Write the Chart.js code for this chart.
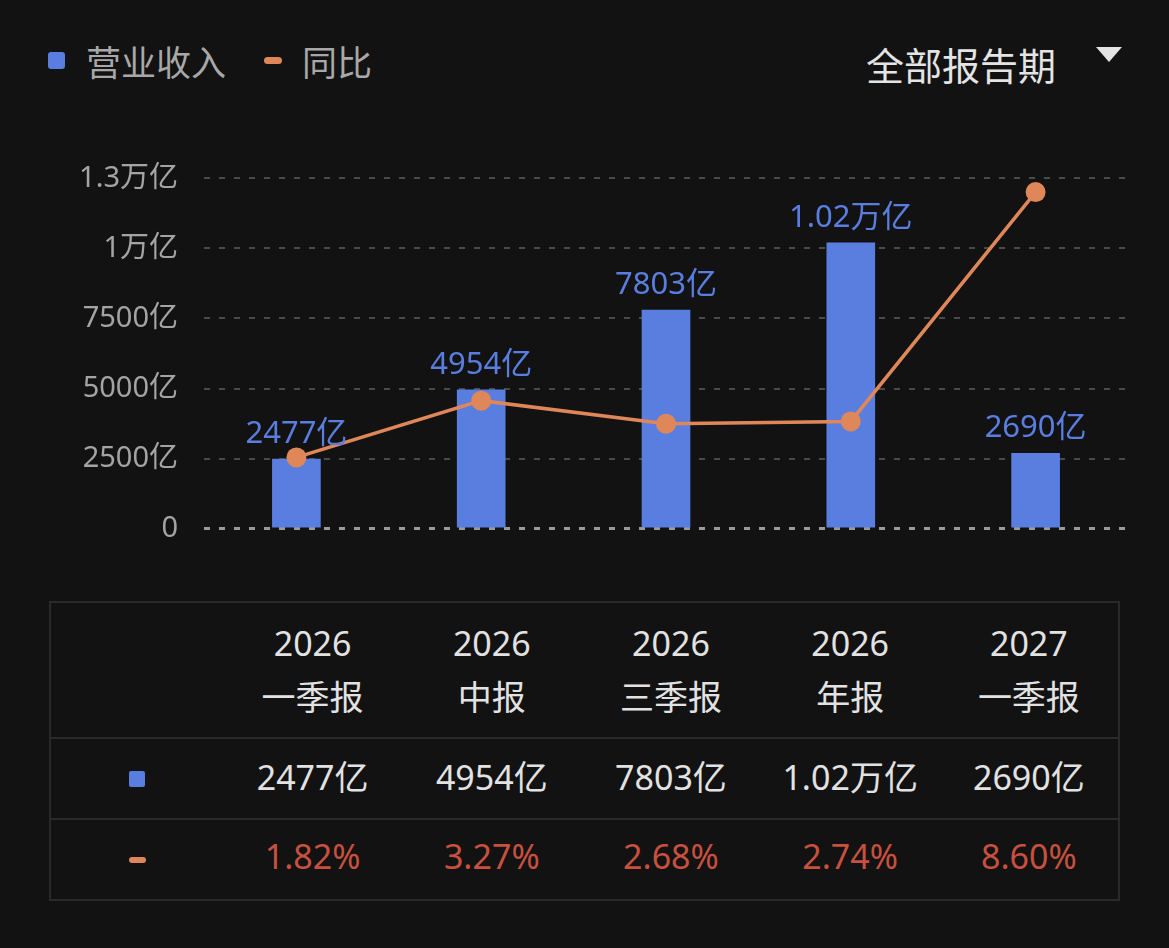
<!DOCTYPE html>
<html>
<head>
<meta charset="utf-8">
<script src="https://cdn.jsdelivr.net/npm/chart.js@4/dist/chart.umd.min.js"></script>
<style>
  html, body { margin: 0; padding: 0; background: #121212; }
  body { width: 1169px; height: 948px; position: relative; overflow: hidden;
         font-family: "Noto Sans", "Noto Sans CJK SC", sans-serif; }
  .legend { position: absolute; left: 48px; top: 38px; height: 44px; display: flex; align-items: center;
            font-size: 35px; color: #a8a8a8; }
  .legend .sq { width: 17px; height: 17px; border-radius: 3px; background: #5a7ee0; margin-right: 21px; }
  .legend .dash { width: 18px; height: 7px; border-radius: 4px; background: #e0875a; margin: 0 20px 0 38px; }
  .period { position: absolute; left: 866px; top: 36px; font-size: 38px; color: #e4e4e4; }
  .tri { position: absolute; left: 1096px; top: 47px; width: 0; height: 0;
         border-left: 13px solid transparent; border-right: 13px solid transparent; border-top: 15px solid #e4e4e4; }
  #c { position: absolute; left: 0; top: 135px; }
  table { position: absolute; left: 49px; top: 601px; width: 1071px; border-collapse: collapse;
          border: 2px solid #2a2a2a; table-layout: fixed; }
  td { text-align: center; font-size: 34px; color: #e2e2e2; padding: 0; }
  tr.head td { height: 134px; line-height: 54px; }
  tr.rev td, tr.yoy td { height: 72px; padding-bottom: 7px; border-top: 2px solid #2a2a2a; }
  tr.yoy td { color: #c8503f; }
  .msq { display: inline-block; width: 16px; height: 16px; border-radius: 2px; background: #5a7ee0; vertical-align: middle; }
  .mdash { display: inline-block; width: 17px; height: 6px; border-radius: 3px; background: #e0875a; vertical-align: middle; }
</style>
</head>
<body>
<div class="legend"><span class="sq"></span>营业收入<span class="dash"></span>同比</div>
<div class="period">全部报告期</div>
<div class="tri"></div>
<canvas id="c" width="1169" height="437"></canvas>
<table id="tbl"></table>
<script>
// periods and values
const years = ['2026', '2026', '2026', '2026', '2027'];
const periods = ['一季报', '中报', '三季报', '年报', '一季报'];
const revenue = [2477, 4954, 7803, 10200, 2690]; // 亿
const revenueText = ['2477亿', '4954亿', '7803亿', '1.02万亿', '2690亿'];
const yoy = [1.82, 3.27, 2.68, 2.74, 8.60]; // %
const yTicks = [0, 2500, 5000, 7500, 10000, 12500];
const yTickLabels = ['0', '2500亿', '5000亿', '7500亿', '1万亿', '1.3万亿'];

const BLUE = '#5a7ee0';
const ORANGE = '#e0875a';

// table under the chart
const tbl = document.getElementById('tbl');
let html = '<colgroup><col style="width:173px">' + years.map(() => '<col>').join('') + '</colgroup>';
html += '<tr class="head"><td></td>';
years.forEach((y, i) => { html += '<td>' + y + '<br>' + periods[i] + '</td>'; });
html += '</tr><tr class="rev"><td><span class="msq"></span></td>';
revenueText.forEach(t => { html += '<td>' + t + '</td>'; });
html += '</tr><tr class="yoy"><td><span class="mdash"></span></td>';
yoy.forEach(v => { html += '<td>' + v.toFixed(2) + '%</td>'; });
html += '</tr>';
tbl.innerHTML = html;

// labels above bars
const barLabels = {
  id: 'barLabels',
  afterDatasetsDraw(chart) {
    const ctx = chart.ctx;
    const meta = chart.getDatasetMeta(1);
    ctx.save();
    ctx.font = '31px "Noto Sans", "Noto Sans CJK SC"';
    ctx.fillStyle = BLUE;
    ctx.textAlign = 'center';
    ctx.textBaseline = 'middle';
    meta.data.forEach((bar, i) => {
      ctx.fillText(revenueText[i], bar.x, bar.y - 25);
    });
    ctx.restore();
  }
};

new Chart(document.getElementById('c'), {
  data: {
    labels: periods.map((p, i) => years[i] + p),
    datasets: [
      {
        type: 'line',
        label: '同比',
        data: yoy,
        yAxisID: 'y1',
        borderColor: ORANGE,
        backgroundColor: ORANGE,
        borderWidth: 3.5,
        pointRadius: 10,
        pointBorderWidth: 0,
        pointBackgroundColor: ORANGE,
        tension: 0,
        clip: false,
        order: 0
      },
      {
        type: 'bar',
        label: '营业收入',
        data: revenue,
        yAxisID: 'y',
        backgroundColor: BLUE,
        barThickness: 48,
        order: 1
      }
    ]
  },
  options: {
    responsive: false,
    animation: false,
    devicePixelRatio: 1,
    layout: { padding: { left: 0, right: 41, top: 0, bottom: 0 } },
    plugins: { legend: { display: false }, tooltip: { enabled: false } },
    scales: {
      x: { display: false },
      y: {
        min: 0,
        max: 12500,
        afterFit(scale) { scale.width = 204; },
        afterBuildTicks(scale) { scale.ticks = yTicks.map(v => ({ value: v })); },
        grid: {
          drawTicks: false,
          color: ctx => ctx.tick && ctx.tick.value === 0 ? '#9a9a9a' : '#4a4a4a',
          lineWidth: ctx => ctx.tick && ctx.tick.value === 0 ? 3 : 2
        },
        border: { display: false, dash: [6, 9] },
        ticks: {
          padding: 26,
          color: '#a4a4a4',
          font: { size: 29, family: '"Noto Sans", "Noto Sans CJK SC"' },
          callback: (v) => yTickLabels[yTicks.indexOf(v)]
        }
      },
      y1: { display: false, min: 0, max: 8.95 }
    }
  },
  plugins: [barLabels]
});
</script>
</body>
</html>
